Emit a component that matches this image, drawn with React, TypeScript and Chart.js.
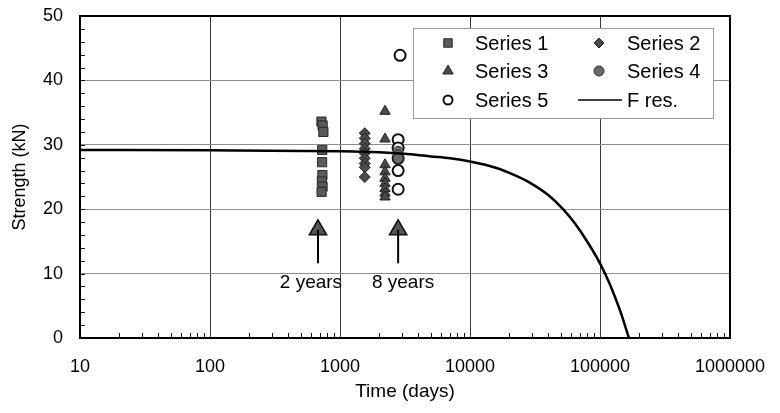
import React, { useEffect, useRef } from 'react';
import { Chart, registerables } from 'chart.js';
import { drawPoint } from 'chart.js/helpers';

Chart.register(...registerables);

// ---- data ----
const s1T = [720, 735, 745, 730, 728, 732, 726, 734, 722];
const s1V = [33.6, 33.0, 32.0, 29.2, 27.3, 25.3, 24.3, 23.5, 22.7];
const s2T = [1550, 1550, 1550, 1550, 1550, 1550, 1550, 1550, 1550];
const s2V = [31.8, 31.0, 30.2, 29.4, 28.7, 27.9, 27.1, 26.5, 25.0];
const s3T = [2220, 2220, 2220, 2220, 2220, 2220, 2220, 2220, 2220];
const s3V = [35.2, 30.9, 26.9, 25.8, 24.8, 24.0, 23.2, 22.5, 21.9];
const s4T = [2800, 2800, 2800];
const s4V = [29.0, 28.4, 27.9];
const s5T = [2900, 2800, 2800, 2800, 2800, 2800];
const s5V = [43.9, 30.8, 29.5, 27.9, 26.0, 23.1];
const fresT = [10, 100, 1000, 2000, 3500, 5000, 7000, 10000, 16000, 22000, 29000, 40000, 52000, 64000, 79000, 100000, 120000, 143000, 167000];
const fresV = [29.2, 29.15, 29.0, 28.85, 28.55, 28.2, 27.9, 27.4, 26.4, 25.3, 24.1, 22.2, 20.0, 17.8, 15.1, 11.6, 8.2, 4.2, 0];
const arrowT = [677, 2800];
const arrowBaseV = 11.6;
const arrowHeadV = 16.8;
const annotLabels = ['2 years', '8 years'];
const annotT = [598, 3055];
const annotV = 8.5;
const xTicks = [10, 100, 1000, 10000, 100000, 1000000];
const yTicks = [0, 10, 20, 30, 40, 50];
const seriesLabels = ['Series 1', 'Series 2', 'Series 3', 'Series 4', 'Series 5', 'F res.'];

const FONT = '"Liberation Sans", Arial, sans-serif';

const pts = (t: number[], v: number[]) => t.map((x, i) => ({ x, y: v[i] }));

const framePlugin = {
  id: 'frame',
  afterDatasetsDraw(chart: any) {
    const { ctx, chartArea: a, scales } = chart;
    const xs = scales.x, ys = scales.y;
    ctx.save();
    ctx.strokeStyle = '#111';
    ctx.lineWidth = 1;
    for (let v = ys.min; v <= ys.max; v += 2) {
      const y = Math.round(ys.getPixelForValue(v)) + 0.5;
      ctx.beginPath();
      ctx.moveTo(a.left, y);
      ctx.lineTo(a.left + 5, y);
      ctx.stroke();
    }
    for (let d = xs.min; d < xs.max; d *= 10) {
      for (let k = 2; k <= 9; k++) {
        const x = Math.round(xs.getPixelForValue(d * k)) + 0.5;
        ctx.beginPath();
        ctx.moveTo(x, a.bottom);
        ctx.lineTo(x, a.bottom - 5);
        ctx.stroke();
      }
    }
    ctx.lineWidth = 2;
    ctx.strokeStyle = '#000';
    ctx.strokeRect(a.left, a.top, a.right - a.left, a.bottom - a.top);
    ctx.fillStyle = '#000';
    ctx.font = `19px ${FONT}`;
    ctx.textAlign = 'center';
    ctx.textBaseline = 'middle';
    annotLabels.forEach((s, i) => {
      ctx.fillText(s, xs.getPixelForValue(annotT[i]), ys.getPixelForValue(annotV));
    });
    ctx.restore();
  },
};

const legendPlugin = {
  id: 'boxLegend',
  afterDraw(chart: any) {
    const { ctx, chartArea: a } = chart;
    const x0 = a.left + 333, y0 = a.top + 12, w = 300, h = 90;
    ctx.save();
    ctx.fillStyle = '#fff';
    ctx.fillRect(x0, y0, w, h);
    ctx.strokeStyle = '#9a9a9a';
    ctx.lineWidth = 1;
    ctx.strokeRect(x0 + 0.5, y0 + 0.5, w, h);
    const items = chart.data.datasets.filter((d: any) => d.inLegend);
    const rowsY = [15, 43, 72];
    items.forEach((d: any, i: number) => {
      const col = i % 2, row = Math.floor(i / 2);
      const mx = x0 + (col ? 186 : 35);
      const my = y0 + rowsY[row];
      if (d.showLine) {
        ctx.strokeStyle = '#000';
        ctx.lineWidth = 1.5;
        ctx.beginPath();
        ctx.moveTo(x0 + 165, my);
        ctx.lineTo(x0 + 209, my);
        ctx.stroke();
      } else {
        ctx.fillStyle = d.backgroundColor;
        ctx.strokeStyle = d.borderColor;
        ctx.lineWidth = d.legendBorder;
        drawPoint(ctx, { pointStyle: d.pointStyle, rotation: 0, radius: d.legendRadius, borderWidth: d.legendBorder } as any, mx, my);
      }
      ctx.fillStyle = '#000';
      ctx.font = `20px ${FONT}`;
      ctx.textAlign = 'left';
      ctx.textBaseline = 'middle';
      ctx.fillText(d.label, x0 + (col ? 214 : 62), my + 1);
    });
    ctx.restore();
  },
};

export default function App() {
  const ref = useRef<HTMLCanvasElement>(null);
  useEffect(() => {
    if (!ref.current) return;
    const fres: any = {
      label: seriesLabels[5], data: pts(fresT, fresV), showLine: true, pointRadius: 0,
      borderColor: '#000', borderWidth: 2.5, cubicInterpolationMode: 'monotone', inLegend: true, order: 0,
    };
    const datasets: any[] = [
      {
        label: seriesLabels[0], data: pts(s1T, s1V), pointStyle: 'rect', pointRadius: 6.5,
        backgroundColor: '#5a5a5a', borderColor: '#2a2a2a', borderWidth: 1, inLegend: true, legendRadius: 6, legendBorder: 1, order: 1,
      },
      {
        label: seriesLabels[1], data: pts(s2T, s2V), pointStyle: 'rectRot', pointRadius: 5.5,
        backgroundColor: '#4a4a4a', borderColor: '#222', borderWidth: 1, inLegend: true, legendRadius: 5, legendBorder: 1, order: 1,
      },
      {
        label: seriesLabels[2], data: pts(s3T, s3V), pointStyle: 'triangle', pointRadius: 6,
        backgroundColor: '#4a4a4a', borderColor: '#222', borderWidth: 1, inLegend: true, legendRadius: 6, legendBorder: 1, order: 1,
      },
      {
        label: seriesLabels[3], data: pts(s4T, s4V), pointStyle: 'circle', pointRadius: 5,
        backgroundColor: '#6a6a6a', borderColor: '#333', borderWidth: 1, inLegend: true, legendRadius: 5, legendBorder: 1, order: 1,
      },
      {
        label: seriesLabels[4], data: pts(s5T, s5V), pointStyle: 'circle', pointRadius: 5.5,
        backgroundColor: '#fff', borderColor: '#111', borderWidth: 2, inLegend: true, legendRadius: 4.5, legendBorder: 2, order: 1,
      },
      fres,
    ];
    arrowT.forEach((t) => {
      datasets.push({
        label: '', data: [{ x: t, y: arrowBaseV }, { x: t, y: arrowHeadV }], showLine: true,
        pointRadius: 0, borderColor: '#000', borderWidth: 2, inLegend: false, order: 2,
      });
      datasets.push({
        label: '', data: [{ x: t, y: arrowHeadV }], pointStyle: 'triangle', pointRadius: 10,
        backgroundColor: '#555', borderColor: '#111', borderWidth: 1.5, inLegend: false, order: 2,
      });
    });

    const chart = new Chart(ref.current, {
      type: 'scatter',
      data: { datasets },
      options: {
        animation: false,
        responsive: false,
        maintainAspectRatio: false,
        layout: { padding: { left: 0, top: 16, right: 50, bottom: 0 } },
        plugins: { legend: { display: false }, tooltip: { enabled: false } },
        scales: {
          x: {
            type: 'logarithmic', min: 10, max: 1000000,
            afterBuildTicks: (s: any) => { s.ticks = xTicks.map((v) => ({ value: v })); },
            afterFit: (s: any) => { s.height = 75; s.paddingLeft = 0; s.paddingRight = 0; },
            grid: { color: '#3a3a3a', lineWidth: 1, drawTicks: false },
            border: { display: false },
            ticks: { padding: 18, color: '#000', font: { family: FONT, size: 18 }, maxRotation: 0, autoSkip: false, callback: (v: any) => String(v) },
            title: { display: true, text: 'Time (days)', color: '#000', font: { family: FONT, size: 19 }, padding: { top: 0, bottom: 10 } },
          },
          y: {
            min: 0, max: 50,
            afterBuildTicks: (s: any) => { s.ticks = yTicks.map((v) => ({ value: v })); },
            afterFit: (s: any) => { s.width = 80; s.paddingTop = 0; s.paddingBottom = 0; },
            grid: { color: '#8f8f8f', lineWidth: 1, drawTicks: false },
            border: { display: false },
            ticks: { padding: 17, color: '#000', font: { family: FONT, size: 18 }, callback: (v: any) => String(v) },
            title: { display: true, text: 'Strength (kN)', color: '#000', font: { family: FONT, size: 18 }, padding: { top: 9, bottom: 0 } },
          },
        },
      } as any,
      plugins: [framePlugin, legendPlugin],
    });
    return () => chart.destroy();
  }, []);
  return (
    <div style={{ position: 'fixed', left: 0, top: 0, width: 780, height: 413, background: '#fff' }}>
      <canvas ref={ref} width={780} height={413} style={{ width: 780, height: 413 }} />
    </div>
  );
}
